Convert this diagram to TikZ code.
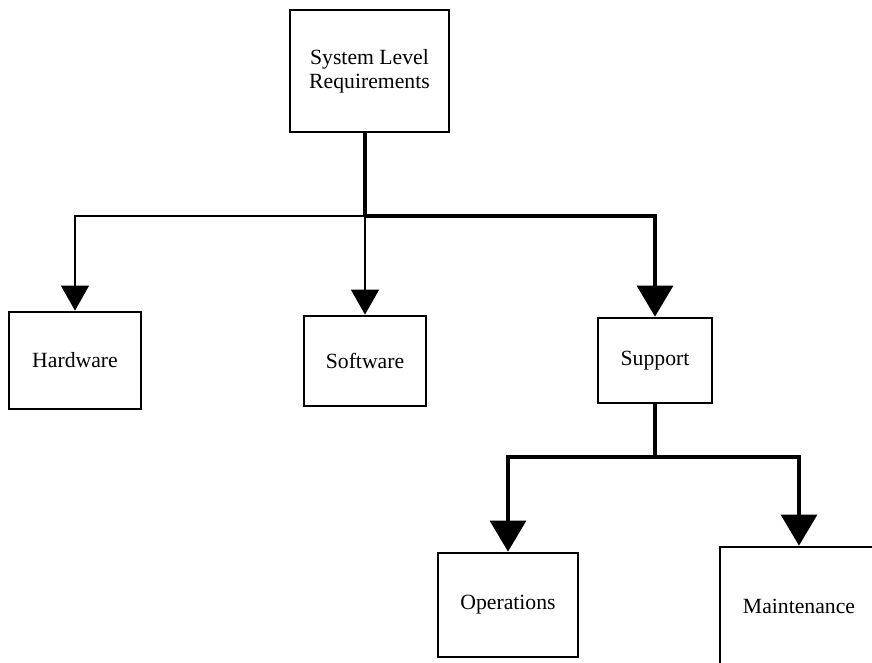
\documentclass[tikz,border=0pt]{standalone}
\usepackage{fontspec}
\setmainfont{Liberation Serif}
\usetikzlibrary{arrows.meta}
\begin{document}
\begin{tikzpicture}[x=1pt,y=-1pt,
  box/.style={draw,line width=2.8pt,rectangle,align=center,inner sep=0pt,
    font=\fontsize{21.7}{24}\selectfont},
  thinlink/.style={line width=1.1pt},
  thicklink/.style={line width=3.2pt},
  smalltip/.style={-{Triangle[width=28pt,length=25pt]}},
  bigtip/.style={-{Triangle[width=36pt,length=31pt]}}]
\useasboundingbox (0,0) rectangle (872,662);
\clip (0,0) rectangle (872,662);

% boxes
\node[box,minimum width=159pt,minimum height=122pt] (top) at (369.5,71) {System Level\\Requirements};
\node[box,minimum width=132pt,minimum height=97pt] (hw) at (75,360.5) {Hardware};
\node[box,minimum width=122pt,minimum height=90pt] (sw) at (365,361) {Software};
\node[box,minimum width=114pt,minimum height=85pt] (sup) at (655,360.5) {Support};
\node[box,minimum width=140pt,minimum height=104pt] (ops) at (508,605) {Operations};
\node[box,minimum width=158pt,minimum height=118pt] (mnt) at (799,606) {Maintenance};

% junction points of the tree
\coordinate (j1) at (365,216);
\coordinate (j2) at (655,457);

% links from the top level
\draw[thicklink] (top.south -| j1) -- (j1);
\draw[thinlink,smalltip] (j1) -| (hw.north);
\draw[thinlink,smalltip] (j1) -- (sw.north);
\draw[thicklink,bigtip] (j1) -| (sup.north);

% links below Support
\draw[thicklink] (sup.south) -- (j2);
\draw[thicklink,bigtip] (j2) -| (ops.north);
\draw[thicklink,bigtip] (j2) -| (mnt.north);
\end{tikzpicture}
\end{document}
